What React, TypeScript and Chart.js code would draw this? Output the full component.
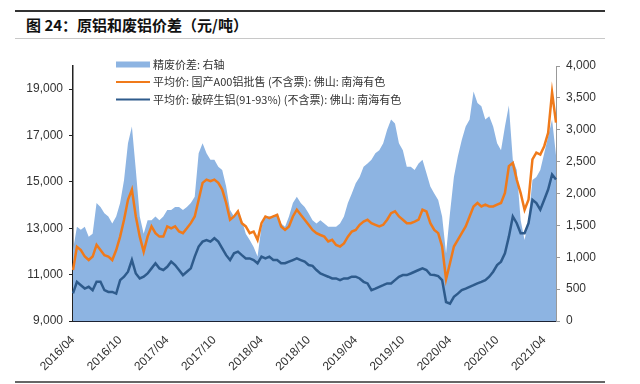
import React, { useEffect, useRef } from "react";
import { Chart, registerables } from "chart.js";

Chart.register(...registerables);

// Half-month periods from 2016/04 (first half) to 2021/05 (second half)
const periods: string[] = [];
for (let y = 2016; y <= 2021; y++) {
  for (let m = 1; m <= 12; m++) {
    if (y === 2016 && m < 4) continue;
    if (y === 2021 && m > 5) continue;
    const mm = m < 10 ? "0" + m : "" + m;
    periods.push(`${y}/${mm}/01`);
    periods.push(`${y}/${mm}/16`);
  }
}

const tickLabels = [
  "2016/04", "2016/10", "2017/04", "2017/10", "2018/04", "2018/10",
  "2019/04", "2019/10", "2020/04", "2020/10", "2021/04",
];

const leftTicks = [9000, 11000, 13000, 15000, 17000, 19000];
const rightTicks = [0, 500, 1000, 1500, 2000, 2500, 3000, 3500, 4000];

const seriesNames = [
  "精废价差: 右轴",
  "平均价: 国产A00铝批售 (不含票): 佛山: 南海有色",
  "平均价: 破碎生铝(91-93%) (不含票): 佛山: 南海有色",
];

// 精废价差 (right axis)
const spread = [
  1110, 1480, 1430, 1480, 1320, 1370, 1850, 1790, 1690, 1640,
  1530, 1640, 1850, 2210, 2790, 3050, 2370, 1640, 1370, 1580,
  1580, 1640, 1580, 1640, 1740, 1740, 1790, 1790, 1740, 1790,
  1850, 1950, 2630, 2790, 2630, 2530, 2530, 2420, 2370, 2110,
  1740, 1640, 1740, 1580, 1370, 1270, 1160, 1010, 1480, 1640,
  1640, 1640, 1690, 1530, 1480, 1640, 1850, 1950, 1850, 1790,
  1690, 1580, 1530, 1580, 1530, 1480, 1480, 1480, 1530, 1640,
  1850, 2000, 2160, 2260, 2420, 2470, 2530, 2630, 2680, 2790,
  3000, 3160, 3100, 2790, 2680, 2420, 2420, 2370, 2470, 2530,
  2320, 2110, 2000, 1900, 1640, 1060, 1690, 2260, 2580, 2840,
  3050, 3160, 3600, 3420, 3370, 3160, 3210, 3050, 2790, 2680,
  3050, 3380, 2530, 2370, 1580, 1270, 1580, 2210, 2260, 2370,
  2630, 2890, 3160, 2600,
];

// 平均价: 国产A00铝批售
const a00 = [
  11200, 12200, 12060, 11780, 11630, 11780, 12280, 12060, 11840, 11780,
  11630, 12060, 12640, 13370, 14230, 14670, 13510, 12640, 11990, 12640,
  13080, 12790, 12640, 12640, 13080, 13000, 13080, 12860, 12790, 13000,
  13220, 13510, 14230, 14960, 15100, 15030, 15100, 14960, 14670, 14090,
  13370, 13510, 13730, 13220, 13080, 12790, 12860, 12500, 13220, 13510,
  13440, 13510, 13580, 13080, 12930, 13080, 13510, 13800, 13580, 13370,
  13150, 12930, 12790, 12710, 12640, 12430, 12500, 12280, 12210, 12350,
  12640, 12860, 12930, 13150, 13290, 13370, 13220, 13150, 13080, 13150,
  13370, 13650, 13730, 13510, 13370, 13220, 13220, 13290, 13370, 13800,
  13730, 13220, 12930, 12790, 12210, 10800, 11490, 12210, 12500, 12790,
  13080, 13510, 13940, 14090, 13940, 14020, 13940, 13940, 14020, 14090,
  14520, 15680, 15820, 15100, 14520, 13800, 14230, 15970, 16260, 16180,
  16540, 17120, 18860, 17560,
];

// 平均价: 破碎生铝(91-93%)
const scrap = [
  10190, 10690, 10545, 10400, 10475, 10330, 10690, 10690, 10330, 10255,
  10255, 10180, 10765, 10910, 11125, 11630, 11050, 10835, 10910, 11050,
  11270, 11490, 11270, 11200, 11340, 11560, 11415, 11200, 10980, 11125,
  11270, 11775, 12210, 12425, 12495, 12425, 12570, 12425, 12135, 11840,
  11630, 11920, 11990, 11840, 11700, 11700, 11630, 11490, 11775, 11700,
  11775, 11630, 11630, 11490, 11490, 11560, 11630, 11700, 11630, 11560,
  11415, 11380, 11200, 11050, 10980, 10910, 10835, 10835, 10765, 10835,
  10835, 10910, 10910, 10835, 10690, 10620, 10330, 10400, 10475, 10545,
  10620, 10620, 10765, 10910, 10980, 10980, 11050, 11125, 11200, 11270,
  11200, 11000, 10980, 10940, 10765, 9820, 9750, 10040, 10180, 10330,
  10400, 10475, 10545, 10620, 10690, 10765, 10910, 11125, 11415, 11560,
  11920, 12640, 13510, 13220, 12785, 12785, 13220, 14230, 14090, 13800,
  14230, 14670, 15320, 15100,
];

const AREA_COLOR = "#8DB4E2";
const ORANGE = "#F07A1A";
const NAVY = "#2E5B8C";
const AXIS_FONT = "'Liberation Sans', Arial, sans-serif";
const CJK_FONT = "'Noto Sans CJK SC', sans-serif";

const legendPlugin = {
  id: "customLegend",
  afterDraw(chart: any) {
    const ctx = chart.ctx;
    const ds = chart.data.datasets;
    const x0 = 116;
    const x1 = 150;
    const rows = [64.5, 82, 99.5];
    ctx.save();
    ctx.font = `11px ${CJK_FONT}`;
    ctx.textBaseline = "middle";
    ctx.textAlign = "left";
    ds.forEach((d: any, i: number) => {
      const y = rows[i];
      if (i === 0) {
        ctx.fillStyle = d.backgroundColor;
        ctx.fillRect(x0, y - 3, x1 - x0, 6);
      } else {
        ctx.strokeStyle = d.borderColor;
        ctx.lineWidth = 2;
        ctx.beginPath();
        ctx.moveTo(x0, y);
        ctx.lineTo(x1, y);
        ctx.stroke();
      }
      ctx.fillStyle = "#333";
      ctx.fillText(d.label, 153, y);
    });
    ctx.restore();
  },
};

export default function App() {
  const ref = useRef<HTMLCanvasElement | null>(null);

  useEffect(() => {
    if (!ref.current) return;
    const chart = new Chart(ref.current, {
      type: "line",
      data: {
        labels: periods,
        datasets: [
          {
            label: seriesNames[0],
            data: spread,
            yAxisID: "y1",
            fill: "origin",
            backgroundColor: AREA_COLOR,
            borderColor: AREA_COLOR,
            borderWidth: 0,
            pointRadius: 0,
            tension: 0,
            order: 3,
          },
          {
            label: seriesNames[1],
            data: a00,
            yAxisID: "y",
            fill: false,
            borderColor: ORANGE,
            backgroundColor: ORANGE,
            borderWidth: 2.5,
            pointRadius: 0,
            tension: 0,
            order: 2,
          },
          {
            label: seriesNames[2],
            data: scrap,
            yAxisID: "y",
            fill: false,
            borderColor: NAVY,
            backgroundColor: NAVY,
            borderWidth: 2.5,
            pointRadius: 0,
            tension: 0,
            order: 1,
          },
        ],
      },
      options: {
        animation: false,
        responsive: false,
        layout: { padding: { top: 66, left: 0, right: 0, bottom: 0 } },
        plugins: {
          legend: { display: false },
          title: { display: false },
          tooltip: { enabled: false },
        },
        scales: {
          x: {
            type: "category",
            offset: false,
            grid: { display: false },
            border: { display: true, color: "#1c2233", width: 2 },
            ticks: {
              autoSkip: false,
              minRotation: 45,
              maxRotation: 45,
              padding: 4,
              color: "#333",
              font: { family: AXIS_FONT, size: 12 },
              callback: (_v: any, i: number) =>
                i % 12 === 0 ? tickLabels[i / 12] ?? "" : "",
            },
            afterFit: (s: any) => {
              s.height = 63;
            },
          },
          y: {
            position: "left",
            min: 9000,
            max: 20000,
            grid: {
              drawOnChartArea: false,
              drawTicks: true,
              tickLength: 4,
              color: "#222",
            },
            border: { display: true, color: "#222", width: 1.5 },
            ticks: {
              padding: 6,
              color: "#333",
              font: { family: AXIS_FONT, size: 12 },
              callback: (v: any) => Number(v).toLocaleString("en-US"),
            },
            afterBuildTicks: (s: any) => {
              s.ticks = leftTicks.map((v) => ({ value: v }));
            },
            afterFit: (s: any) => {
              s.width = 73;
            },
          },
          y1: {
            position: "right",
            min: 0,
            max: 4000,
            grid: {
              drawOnChartArea: false,
              drawTicks: true,
              tickLength: 4,
              color: "#999",
            },
            border: { display: true, color: "#999", width: 1 },
            ticks: {
              padding: 6,
              color: "#333",
              font: { family: AXIS_FONT, size: 12 },
              callback: (v: any) => Number(v).toLocaleString("en-US"),
            },
            afterBuildTicks: (s: any) => {
              s.ticks = rightTicks.map((v) => ({ value: v }));
            },
            afterFit: (s: any) => {
              s.width = 84;
            },
          },
        },
      } as any,
      plugins: [legendPlugin],
    });
    return () => chart.destroy();
  }, []);

  return (
    <div
      style={{
        position: "fixed",
        left: 0,
        top: 0,
        width: 640,
        height: 384,
        background: "#fff",
        overflow: "hidden",
      }}
    >
      <div
        style={{
          position: "absolute",
          left: 15,
          top: 10,
          width: 590,
          height: 2,
          background: "#333",
        }}
      />
      <div
        style={{
          position: "absolute",
          left: 26,
          top: 15,
          fontFamily: CJK_FONT,
          fontWeight: 700,
          fontSize: 15,
          lineHeight: "20px",
          color: "#111",
          whiteSpace: "nowrap",
        }}
      >
        图 24：原铝和废铝价差（元/吨）
      </div>
      <div
        style={{
          position: "absolute",
          left: 15,
          top: 38,
          width: 590,
          height: 1,
          background: "#c8c8c8",
        }}
      />
      <canvas
        ref={ref}
        width={640}
        height={384}
        style={{ position: "absolute", left: 0, top: 0, width: 640, height: 384 }}
      />
      <div
        style={{
          position: "absolute",
          left: 15,
          top: 381,
          width: 590,
          height: 1.5,
          background: "#666",
        }}
      />
    </div>
  );
}
